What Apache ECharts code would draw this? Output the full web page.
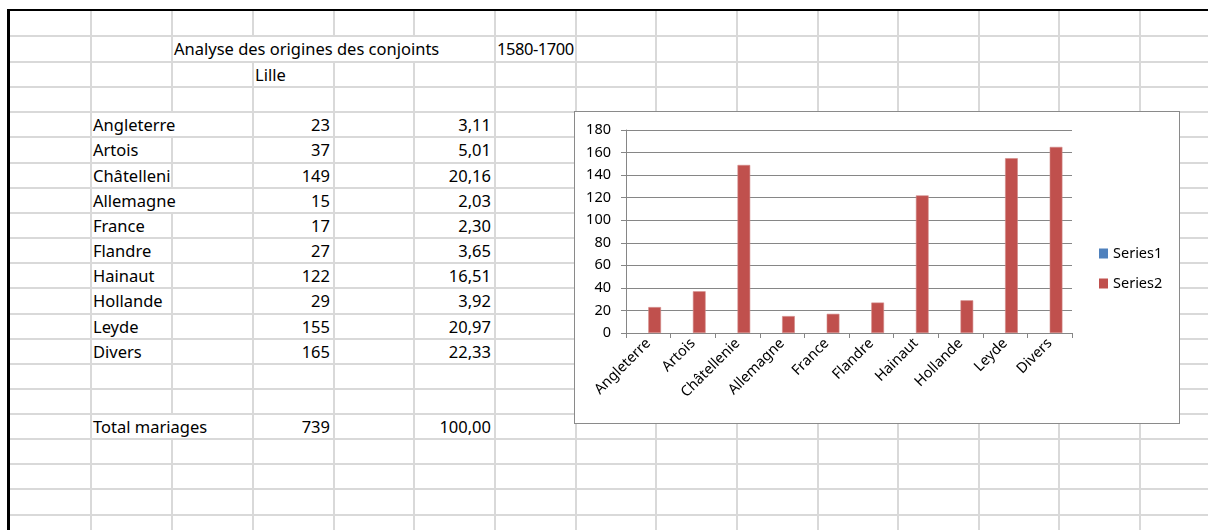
<!DOCTYPE html>
<html>
<head>
<meta charset="utf-8">
<script src="https://cdn.jsdelivr.net/npm/echarts@6/dist/echarts.min.js"></script>
<style>
  html, body { margin:0; padding:0; background:#fff; }
  body { width:1208px; height:530px; overflow:hidden; position:relative; font-family:'Noto Sans', sans-serif; }
  .ln { position:absolute; background:#d9d9d9; }
  .blk { position:absolute; background:#000; }
  .cell { position:absolute; white-space:nowrap; overflow:hidden; color:#000; font-size:16.5px; line-height:23px; box-sizing:border-box; }
  .cover { background:#fff; }
  .vis { overflow:visible; letter-spacing:-0.45px; }
  #chartBox { position:absolute; left:574px; top:111px; width:606px; height:313px; border:1px solid #8a8a8a; box-sizing:border-box; background:#fff; }
  #chart { position:absolute; left:0; top:0; width:604px; height:311px; }
</style>
</head>
<body>
<div id="sheet"></div>
<div id="chartBox"><div id="chart"></div></div>
<script>
// ---------- data ----------
const sheetTitle = 'Analyse des origines des conjoints';
const sheetPeriod = '1580-1700';
const sheetCity = 'Lille';
const categories = ['Angleterre','Artois','Châtellenie','Allemagne','France','Flandre','Hainaut','Hollande','Leyde','Divers'];
const tableNames = ['Angleterre','Artois','Châtellenie','Allemagne','France','Flandre','Hainaut','Hollande','Leyde','Divers'];
const tableCounts = [23,37,149,15,17,27,122,29,155,165];
const tablePercents = ['3,11','5,01','20,16','2,03','2,30','3,65','16,51','3,92','20,97','22,33'];
const totalLabel = 'Total mariages';
const totalCount = 739;
const totalPercent = '100,00';
const series1Values = [null,null,null,null,null,null,null,null,null,null];
const series2Values = [23,37,149,15,17,27,122,29,155,165];
const seriesNames = ['Series1','Series2'];
const yMin = 0, yMax = 180, yStep = 20;

// ---------- spreadsheet layout ----------
const colX = [90,171,252,333,413,494,575,655,736,817,897,978,1058,1139];
const rowY = [35,61,86,111,136,162,187,212,237,262,287,313,338,363,388,413,438,463,488,514];
const sheet = document.getElementById('sheet');
function el(cls, css, text){
  const d = document.createElement('div');
  d.className = cls;
  Object.assign(d.style, css);
  if (text !== undefined) d.textContent = text;
  sheet.appendChild(d);
  return d;
}
colX.forEach(x => el('ln', {left:x+'px', top:'10px', width:'2px', height:'520px'}));
rowY.forEach(y => el('ln', {left:'9px', top:y+'px', width:'1199px', height:'2px'}));
// black borders
el('blk', {left:'7px', top:'9px', width:'1201px', height:'2px'});
el('blk', {left:'7px', top:'9px', width:'3px', height:'521px'});

// text cells
function cell(text, c0, c1, r, align, extra){
  const x0 = colX[c0] + 2, x1 = colX[c1];
  const top = rowY[r] + 2;
  const h = rowY[r+1] - rowY[r] - 2;
  const css = {left:x0+'px', width:(x1-x0)+'px', top:top+'px', height:h+'px', textAlign:align};
  if (align === 'left') css.paddingLeft = '1px'; else css.paddingRight = '3px';
  el('cell' + (extra ? ' ' + extra : ''), css, text);
}
// header
cell(sheetTitle, 1, 5, 0, 'left', 'cover');
cell(sheetPeriod, 5, 6, 0, 'left', 'vis');
cell(sheetCity, 2, 3, 1, 'left');
// data rows
const overflowRows = {0:true, 3:true};
tableNames.forEach((n,i) => {
  const r = 3 + i;
  cell(n, 0, overflowRows[i] ? 2 : 1, r, 'left', overflowRows[i] ? 'cover' : '');
  cell(String(tableCounts[i]), 2, 3, r, 'right');
  cell(tablePercents[i], 4, 5, r, 'right');
});
cell(totalLabel, 0, 2, 15, 'left', 'cover');
cell(String(totalCount), 2, 3, 15, 'right');
cell(totalPercent, 4, 5, 15, 'right');

// ---------- chart ----------
const chart = echarts.init(document.getElementById('chart'), null, {renderer:'canvas'});
const axisGray = '#868686';
const fs = 14.5;
chart.setOption({
  animation:false,
  textStyle:{fontFamily:'Noto Sans'},
  grid:{left:51, top:18, width:446, height:203},
  legend:{
    orient:'vertical', left:519, top:129, itemWidth:9, itemHeight:10, itemGap:15,
    icon:'rect', data:seriesNames,
    itemStyle:{borderWidth:0},
    textStyle:{fontSize:fs, color:'#000', fontFamily:'Noto Sans'}
  },
  xAxis:{
    type:'category', data:categories,
    axisLine:{lineStyle:{color:axisGray}},
    axisTick:{show:true, length:5, lineStyle:{color:axisGray}},
    axisLabel:{rotate:45, interval:0, fontSize:fs, color:'#000', margin:8, fontFamily:'Noto Sans'}
  },
  yAxis:{
    type:'value', min:yMin, max:yMax, interval:yStep,
    axisLine:{show:true, lineStyle:{color:axisGray}},
    axisTick:{show:true, length:5, lineStyle:{color:axisGray}},
    splitLine:{show:true, lineStyle:{color:axisGray, width:1}},
    axisLabel:{fontSize:fs, color:'#000', margin:15, fontFamily:'Noto Sans'}
  },
  series:[
    {name:seriesNames[0], type:'bar', data:series1Values, itemStyle:{color:'#4f81bd'}, barGap:'0%', barCategoryGap:'43%'},
    {name:seriesNames[1], type:'bar', data:series2Values, itemStyle:{color:'#c0504d', borderColor:'#d28a88', borderWidth:0.6}, barGap:'0%', barCategoryGap:'43%'}
  ]
});
</script>
</body>
</html>
